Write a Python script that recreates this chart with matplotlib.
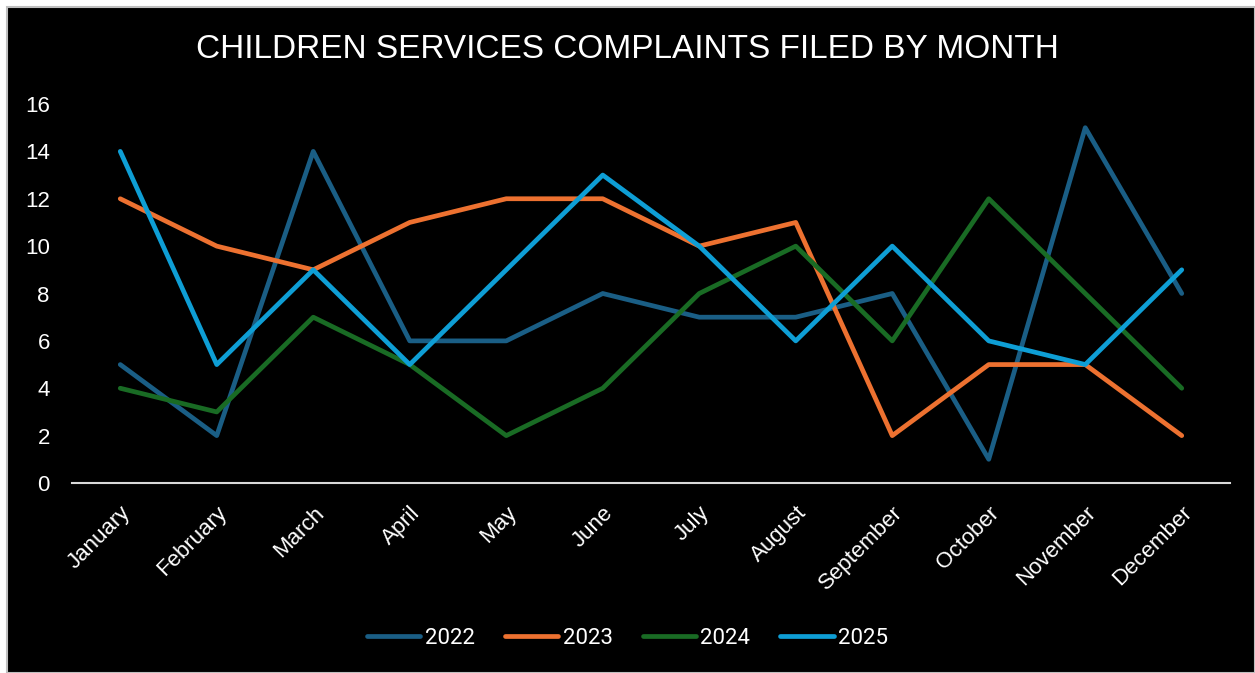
import matplotlib.pyplot as plt
from matplotlib.patches import Rectangle

months = ['January', 'February', 'March', 'April', 'May', 'June', 'July',
          'August', 'September', 'October', 'November', 'December']
y2022 = [5, 2, 14, 6, 6, 8, 7, 7, 8, 1, 15, 8]
y2023 = [12, 10, 9, 11, 12, 12, 10, 11, 2, 5, 5, 2]
y2024 = [4, 3, 7, 5, 2, 4, 8, 10, 6, 12, 8, 4]
y2025 = [14, 5, 9, 5, 9, 13, 10, 6, 10, 6, 5, 9]

series = [('2022', y2022, '#1a5e85'), ('2023', y2023, '#ed7130'),
          ('2024', y2024, '#196b24'), ('2025', y2025, '#0e9ed5')]

W, H = 1255, 673
fig = plt.figure(figsize=(W / 100, H / 100), dpi=100, facecolor='white')
fig.patches.append(Rectangle((7 / W, 0.5 / H), 1 - 7 / W, 1 - 7.5 / H,
                             transform=fig.transFigure, facecolor='black',
                             edgecolor='#bfbfbf', linewidth=1.5, zorder=-5))

ax = fig.add_axes([72 / W, 1 - 483 / H, (1230 - 72) / W, (483 - 104) / H])
ax.set_facecolor('none')
x = range(len(months))
for name, vals, col in series:
    ax.plot(x, vals, color=col, lw=3.4, label=name, solid_capstyle='round',
            solid_joinstyle='round', clip_on=False)

ax.set_xlim(-0.5, len(months) - 0.5)
ax.set_ylim(0, 16)
ax.set_yticks(range(0, 17, 2))
ax.set_xticks(list(x))
ax.set_xticklabels(months, rotation=45, ha='right', rotation_mode='anchor',
                   family='Liberation Sans', fontsize=16, color='white')
for t in ax.get_yticklabels():
    t.set_family('Liberation Sans')
ax.tick_params(axis='y', colors='white', labelsize=16, length=0, pad=16)
ax.tick_params(axis='x', length=0, pad=14)
for s in ['top', 'right', 'left']:
    ax.spines[s].set_visible(False)
ax.spines['bottom'].set_color('#d9d9d9')
ax.spines['bottom'].set_linewidth(1.5)

fig.text(0.5, 1 - 50 / H, 'CHILDREN SERVICES COMPLAINTS FILED BY MONTH',
         ha='center', va='center', color='white', fontsize=24,
         family='Liberation Sans')

leg = fig.legend(loc='center', bbox_to_anchor=(0.5, 1 - 638 / H), ncol=4,
                 frameon=False, handlelength=2.4, handletextpad=0.2,
                 columnspacing=1.35, prop={'family': 'Roboto', 'size': 16})
for t in leg.get_texts():
    t.set_color('white')

fig.savefig('out.png', dpi=100, facecolor='white')
